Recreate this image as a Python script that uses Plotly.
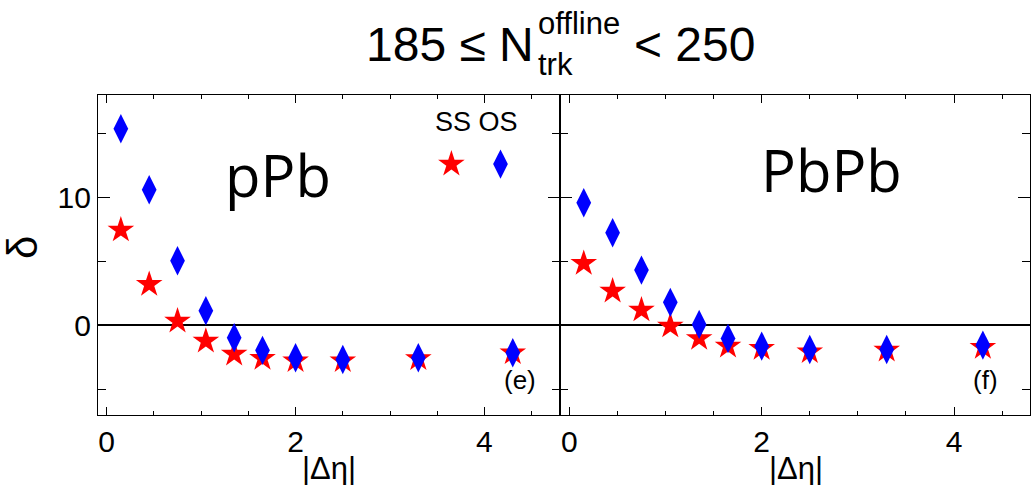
import plotly.graph_objects as go

# ---------------- data ----------------
deta = [0.15, 0.45, 0.75, 1.05, 1.35, 1.65, 2.0, 2.5, 3.3, 4.3]
pPb_SS = [7.45, 3.2, 0.34, -1.23, -2.24, -2.58, -2.76, -2.76, -2.6, -2.14]
pPb_OS = [15.36, 10.6, 5.05, 1.14, -0.97, -1.95, -2.53, -2.66, -2.53, -2.14]
PbPb_SS = [4.84, 2.68, 1.2, -0.05, -1.02, -1.62, -1.8, -2.06, -1.93, -1.72]
PbPb_OS = [9.58, 7.24, 4.32, 1.8, 0.08, -1.02, -1.62, -1.88, -1.88, -1.54]
series_names = ["SS", "OS"]
panel_labels = ["pPb", "PbPb"]
panel_tags = ["(e)", "(f)"]

# ---------------- layout constants ----------------
W, H = 1031, 485
ML, MR, MT, MB = 98, 1, 95, 70
PW, PH = W - ML - MR, H - MT - MB
SPLIT = 560
RED, BLUE = "#ff0000", "#0000ff"
NARROW = "Liberation Sans Narrow, Arial Narrow, Liberation Sans, Arial, sans-serif"
SANS = "Liberation Sans, Arial, Helvetica, sans-serif"
CAL = "Open Sans, Lato, sans-serif"
STAR_SIZE = 20
DIA_SIZE = 21
LEG_X = [3.65, 4.17]
LEG_Y = 12.6
LW = 1.2


def px(x):
    return (x - ML) / PW


def py(y):
    return (H - MB - y) / PH


split = px(SPLIT)

fig = go.Figure()

panels = [("x", "y", pPb_SS, pPb_OS), ("x2", "y2", PbPb_SS, PbPb_OS)]
for xa, ya, ss, os_ in panels:
    fig.add_trace(go.Scatter(x=deta, y=ss, mode="markers", xaxis=xa, yaxis=ya,
                             marker=dict(symbol="star", size=STAR_SIZE, color=RED,
                                         line=dict(width=0)),
                             name=series_names[0], showlegend=False))
    fig.add_trace(go.Scatter(x=deta, y=os_, mode="markers", xaxis=xa, yaxis=ya,
                             marker=dict(symbol="diamond-tall", size=DIA_SIZE, color=BLUE,
                                         line=dict(width=0)),
                             name=series_names[1], showlegend=False))

# key symbols
fig.add_trace(go.Scatter(x=[LEG_X[0]], y=[LEG_Y], mode="markers", xaxis="x", yaxis="y",
                         marker=dict(symbol="star", size=STAR_SIZE, color=RED, line=dict(width=0)),
                         showlegend=False, hoverinfo="skip"))
fig.add_trace(go.Scatter(x=[LEG_X[1]], y=[LEG_Y], mode="markers", xaxis="x", yaxis="y",
                         marker=dict(symbol="diamond-tall", size=DIA_SIZE, color=BLUE, line=dict(width=0)),
                         showlegend=False, hoverinfo="skip"))

axis_common = dict(showline=True, linecolor="black", linewidth=LW, mirror="ticks",
                   ticks="inside", tickcolor="black", showgrid=False, automargin=False)

xcommon = dict(axis_common, tickmode="linear", tick0=0, dtick=2, ticklen=8, tickwidth=1.2,
               minor=dict(dtick=0.5, ticklen=4, tickwidth=1.2, tickcolor="black", ticks="inside", showgrid=False),
               tickfont=dict(family=NARROW, size=30, color="black"), zeroline=False,
               ticklabelstandoff=0)
ycommon = dict(axis_common, tickmode="linear", tick0=0, dtick=10, ticklen=12, tickwidth=1.2,
               minor=dict(dtick=5, ticklen=8, tickwidth=1.2, tickcolor="black", ticks="inside", showgrid=False),
               range=[-7, 18], zeroline=True, zerolinecolor="black", zerolinewidth=1.5,
               tickfont=dict(family=NARROW, size=30, color="black"), ticklabelstandoff=0)

fig.update_layout(
    width=W, height=H,
    margin=dict(l=ML, r=MR, t=MT, b=MB, autoexpand=False),
    paper_bgcolor="white", plot_bgcolor="white",
    xaxis=dict(xcommon, domain=[0, split], range=[-0.092, 4.80], anchor="y"),
    xaxis2=dict(xcommon, domain=[split, 1], range=[-0.097, 4.79], anchor="y2"),
    yaxis=dict(ycommon, domain=[0, 1], anchor="x"),
    yaxis2=dict(ycommon, domain=[0, 1], anchor="x2", showticklabels=False),
    showlegend=False,
)

ann = []
# title pieces
ann.append(dict(text="185 ≤ N", x=px(536), y=py(44.5), xanchor="right", yanchor="middle",
                font=dict(family=SANS, size=48, color="black")))
ann.append(dict(text="offline", x=px(536), y=py(24), xanchor="left", yanchor="middle",
                font=dict(family=SANS, size=31, color="black")))
ann.append(dict(text="trk", x=px(536), y=py(64.5), xanchor="left", yanchor="middle",
                font=dict(family=SANS, size=31, color="black")))
ann.append(dict(text="< 250", x=px(632), y=py(44.5), xanchor="left", yanchor="middle",
                font=dict(family=SANS, size=48, color="black")))
# panel labels
ann.append(dict(text=panel_labels[0], x=px(278), y=py(174.5), xanchor="center", yanchor="middle",
                font=dict(family=CAL, size=58, color="black")))
ann.append(dict(text=panel_labels[1], x=px(831), y=py(169.5), xanchor="center", yanchor="middle",
                font=dict(family=CAL, size=58, color="black")))
ann.append(dict(text=panel_tags[0], x=px(520), y=py(380), xanchor="center", yanchor="middle",
                font=dict(family=SANS, size=26, color="black")))
ann.append(dict(text=panel_tags[1], x=px(985), y=py(380), xanchor="center", yanchor="middle",
                font=dict(family=SANS, size=26, color="black")))
# key text
ann.append(dict(text=" ".join(series_names), x=px(476), y=py(122), xanchor="center", yanchor="middle",
                font=dict(family=SANS, size=27, color="black")))
# axis titles
ann.append(dict(text="δ", x=px(22), y=py(248), xanchor="center", yanchor="middle", textangle=-90,
                font=dict(family=SANS, size=42, color="black")))
ann.append(dict(text="|Δη|", x=px((ML + SPLIT) / 2), y=py(468), xanchor="center", yanchor="middle",
                font=dict(family=NARROW, size=31, color="black")))
ann.append(dict(text="|Δη|", x=px((SPLIT + W) / 2), y=py(468), xanchor="center", yanchor="middle",
                font=dict(family=NARROW, size=31, color="black")))

for a in ann:
    a.update(xref="paper", yref="paper", showarrow=False)
fig.update_layout(annotations=ann)

fig.write_html("out.html", config={"displayModeBar": False},
               post_script="document.body.style.margin='0';document.body.style.overflow='hidden';")
